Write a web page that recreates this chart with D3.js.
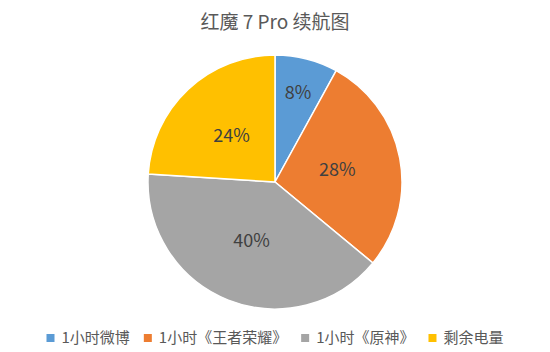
<!DOCTYPE html>
<html>
<head>
<meta charset="utf-8">
<script src="https://cdn.jsdelivr.net/npm/d3@7"></script>
<style>
  body { margin: 0; background: #fff; }
  text { font-family: "Noto Sans CJK SC", "Noto Sans", sans-serif; }
</style>
</head>
<body>
<svg id="chart" width="550" height="352"></svg>
<script>
const title = "红魔 7 Pro 续航图";
const categories = ["1小时微博", "1小时《王者荣耀》", "1小时《原神》", "剩余电量"];
const values = [8, 28, 40, 24];
const colors = ["#5B9BD5", "#ED7D31", "#A5A5A5", "#FFC000"];

const width = 550, height = 352;
const svg = d3.select("#chart");

svg.append("rect").attr("width", width).attr("height", height).attr("fill", "#fff");

svg.append("text")
    .attr("x", 275)
    .attr("y", 29)
    .attr("text-anchor", "middle")
    .attr("font-size", 19)
    .attr("fill", "#595959")
    .text(title);

const cx = 275, cy = 182, radius = 127;
const data = categories.map((c, i) => ({ name: c, value: values[i] }));
const pie = d3.pie().value(d => d.value).sort(null);
const arc = d3.arc().innerRadius(0).outerRadius(radius);
const total = d3.sum(values);

const g = svg.append("g").attr("transform", `translate(${cx},${cy})`);
const arcs = pie(data);

g.selectAll("path")
    .data(arcs)
    .enter().append("path")
    .attr("d", arc)
    .attr("fill", (d, i) => colors[i])
    .attr("stroke", "#fff")
    .attr("stroke-width", 1.5);

// small slices get their label pushed further out, like Excel does
const labelArc = d => {
    const share = d.data.value / total;
    const r = share < 0.12 ? radius * 0.73 : radius * 0.5;
    return d3.arc().innerRadius(r).outerRadius(r).centroid(d);
};

g.selectAll("text.lbl")
    .data(arcs)
    .enter().append("text")
    .attr("class", "lbl")
    .attr("transform", d => `translate(${labelArc(d)})`)
    .attr("text-anchor", "middle")
    .attr("dy", "0.35em")
    .attr("font-size", 18)
    .attr("fill", "#404040")
    .text(d => Math.round(d.data.value / total * 100) + "%");

// legend
const legend = svg.append("g");
let x = 0;
const items = legend.selectAll("g")
    .data(categories)
    .enter().append("g");
items.append("rect")
    .attr("width", 8).attr("height", 8)
    .attr("y", -5)
    .attr("fill", (d, i) => colors[i]);
items.append("text")
    .attr("x", 15)
    .attr("dy", "0.35em")
    .attr("y", -1)
    .attr("font-size", 15)
    .attr("fill", "#595959")
    .text(d => d);
items.each(function() {
    const w = d3.select(this).select("text").node().getComputedTextLength();
    d3.select(this).attr("transform", `translate(${x},0)`);
    x += 15 + w + 14;
});
const legendW = x - 14;
legend.attr("transform", `translate(${(width - legendW) / 2},339)`);
</script>
</body>
</html>
